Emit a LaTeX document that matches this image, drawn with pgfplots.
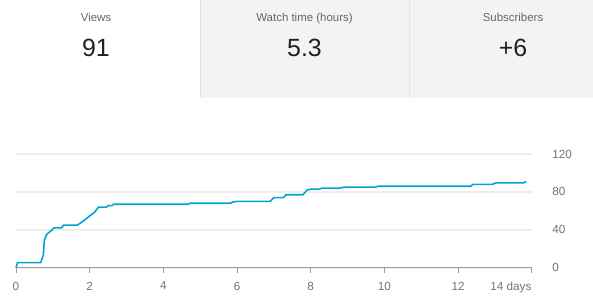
\documentclass[border=0pt]{standalone}
\usepackage{fontspec}
\setmainfont{Liberation Sans}
\usepackage{pgfplots}
\pgfplotsset{compat=1.18}
\definecolor{ytline}{HTML}{03A3CF}
\definecolor{cellgray}{HTML}{F3F3F3}
\definecolor{cellborder}{HTML}{E2E2E2}
\definecolor{labgray}{HTML}{757575}
\definecolor{titlegray}{HTML}{666666}
\definecolor{bignum}{HTML}{212121}
\definecolor{gridgray}{HTML}{EEEEEE}
\definecolor{axgray}{HTML}{9E9E9E}
\begin{document}
\begin{tikzpicture}[x=1bp,y=1bp]
\path[use as bounding box, fill=white] (0,0) rectangle (593,305);
\fill[cellgray] (200,207.3) rectangle (593,305);
\draw[cellborder, line width=0.8bp] (200.4,207.3) -- (200.4,305);
\draw[cellborder, line width=0.8bp] (409.4,207.3) -- (409.4,305);
\node[anchor=base, inner sep=0pt, font=\fontsize{11.5}{13}\selectfont, text=titlegray] at (96,284) {Views};
\node[anchor=base, inner sep=0pt, font=\fontsize{11.5}{13}\selectfont, text=titlegray] at (304.5,284) {Watch time (hours)};
\node[anchor=base, inner sep=0pt, font=\fontsize{11.5}{13}\selectfont, text=titlegray] at (513,284) {Subscribers};
\node[anchor=base, inner sep=0pt, font=\fontsize{25}{28}\selectfont, text=bignum] at (96,248.5) {91};
\node[anchor=base, inner sep=0pt, font=\fontsize{25}{28}\selectfont, text=bignum] at (304.5,248.5) {5.3};
\node[anchor=base, inner sep=0pt, font=\fontsize{25}{28}\selectfont, text=bignum] at (513,248.5) {+6};
\begin{axis}[
  at={(16bp,37.3bp)}, anchor=south west,
  scale only axis, width=515.7bp, height=113.7bp,
  xmin=0, xmax=14, ymin=0, ymax=120,
  axis x line*=bottom, axis y line*=right,
  y axis line style={draw=none},
  x axis line style={draw=axgray, line width=1bp},
  ytick={0,40,80,120}, ytick style={draw=none},
  yticklabel pos=right,
  yticklabel style={anchor=west, inner sep=0pt, xshift=15.5bp, text=labgray, font=\fontsize{11.8}{13}\selectfont},
  xtick={0,2,4,6,8,10,12},
  xticklabels={0,2,4,6,8,10,12},
  extra x ticks={14}, extra x tick labels={14 days},
  extra x tick style={xticklabel style={anchor=north east, xshift=0bp}},
  x tick style={draw=axgray, line width=0.8bp},
  tick align=outside, major tick length=5bp,
  xticklabel style={anchor=north, inner sep=0pt, yshift=-9bp, text=labgray, font=\fontsize{11.8}{13}\selectfont},
  ymajorgrids, grid style={gridgray, line width=1.6bp},
  /pgf/number format/assume math mode=true,
  clip=false,
]
\addplot[ytline, line width=1.6bp, line join=round, no marks] coordinates {
(0,0) (0.04,5.3) (0.67,5.3) (0.74,13) (0.77,29) (0.83,35) (0.92,38) (1.03,42)
(1.24,42) (1.29,45) (1.67,45) (1.78,48) (1.92,52) (2.01,55) (2.12,58) (2.24,64)
(2.46,64) (2.5,65.5) (2.6,65.5) (2.65,67) (4.68,67) (4.72,68) (5.82,68) (5.9,69.5)
(6.0,70) (6.9,70) (7.0,74) (7.26,74) (7.33,77) (7.79,77) (7.9,81.8) (8.0,83)
(8.24,83) (8.31,84) (8.8,84) (8.9,85) (9.76,85) (9.82,86) (12.34,86) (12.41,88)
(12.93,88) (13.02,89.5) (13.78,89.5) (13.85,91)
};
\end{axis}
\end{tikzpicture}
\end{document}
